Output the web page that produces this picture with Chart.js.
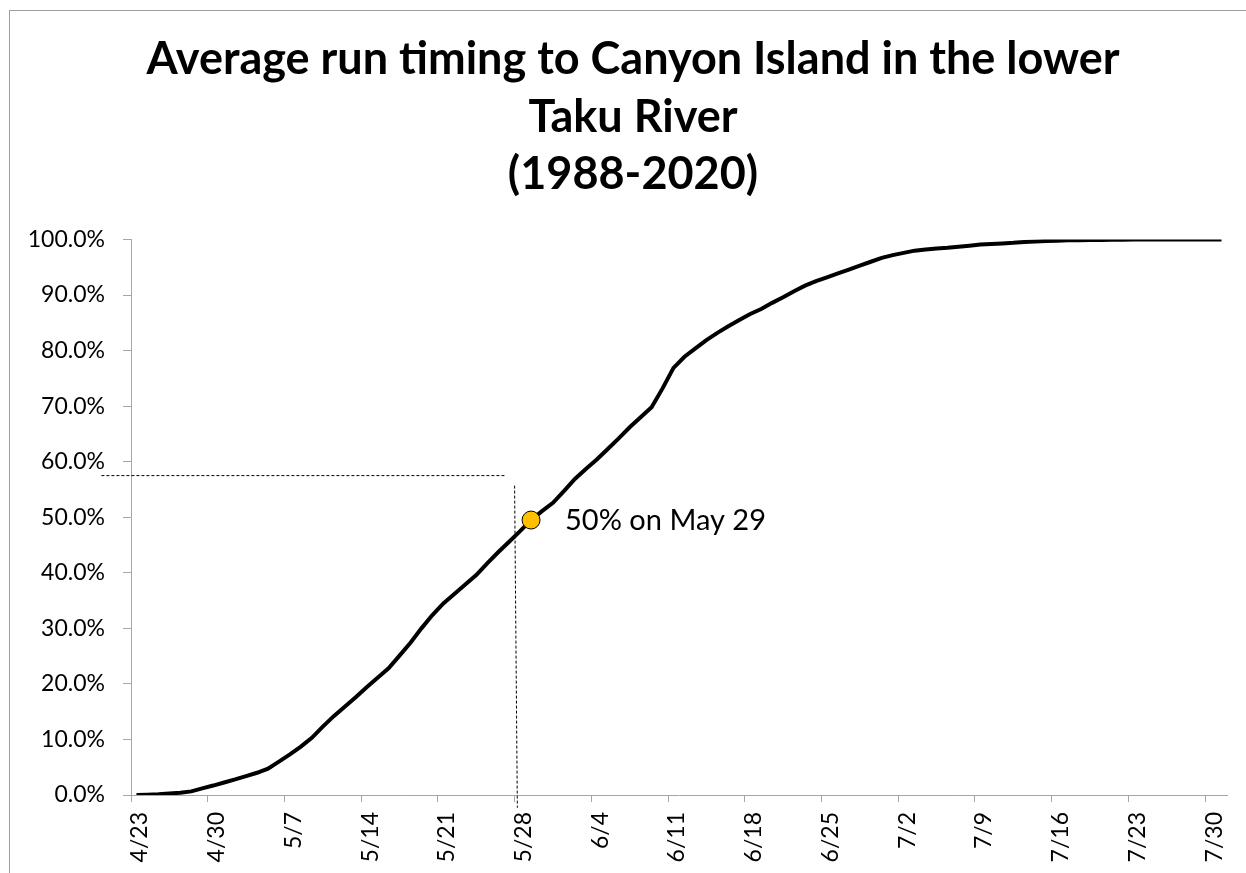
<!DOCTYPE html>
<html lang="en">
<head>
  <meta charset="UTF-8">
  <title>Average run timing - Canyon Island</title>
  <script src="https://cdn.jsdelivr.net/npm/chart.js"></script>
  <style>
    html, body {
      margin: 0;
      padding: 0;
      background: #ffffff;
      overflow: hidden;
    }
    .frame {
      position: absolute;
      left: 9px;
      top: 10px;
      width: 1300px;
      height: 900px;
      border-top: 1px solid #9e9e9e;
      border-left: 1px solid #9e9e9e;
    }
    #chart {
      position: absolute;
      left: 0;
      top: 0;
    }
  </style>
</head>
<body>
  <div class="frame"></div>
  <canvas id="chart" width="1246" height="873"></canvas>

  <script>
    // x axis: days since 4/23, one tick per week
    const tickDays = [0, 7, 14, 21, 28, 35, 42, 49, 56, 63, 70, 77, 84, 91, 98];
    const tickLabels = ['4/23', '4/30', '5/7', '5/14', '5/21', '5/28', '6/4', '6/11',
                        '6/18', '6/25', '7/2', '7/9', '7/16', '7/23', '7/30'];

    // cumulative run (%), one value per day from 4/23 to 7/31
    const runPct = [
      0.0, 0.05, 0.12, 0.25, 0.42, 0.65, 1.2, 1.7, 2.25, 2.8,
      3.4, 4.0, 4.75, 6.0, 7.3, 8.7, 10.3, 12.3, 14.2, 15.9,
      17.6, 19.4, 21.1, 22.8, 25.1, 27.4, 30.0, 32.4, 34.5, 36.2,
      37.9, 39.6, 41.7, 43.7, 45.6, 47.5, 49.5, 51.1, 52.6, 54.7,
      56.9, 58.7, 60.4, 62.3, 64.2, 66.2, 68.0, 69.8, 73.2, 76.9,
      78.9, 80.4, 81.9, 83.2, 84.4, 85.5, 86.6, 87.5, 88.6, 89.6,
      90.7, 91.7, 92.5, 93.2, 93.9, 94.6, 95.3, 96.0, 96.7, 97.2,
      97.6, 98.0, 98.2, 98.4, 98.5, 98.7, 98.9, 99.1, 99.2, 99.3,
      99.4, 99.55, 99.65, 99.75, 99.8, 99.85, 99.88, 99.9, 99.93, 99.96,
      99.98, 100, 100, 100, 100, 100, 100, 100, 100, 100
    ];

    // 50% marker (day 36 = 5/29)
    const markDay = 36;
    const markPct = 49.5;
    const markText = '50% on May 29';

    // dashed guide lines, in axis units (day, %)
    const guideHDays = [-2.7, 34.2];
    const guideHPct = [57.5, 57.5];
    const guideVDays = [35.0, 35.25];
    const guideVPct = [55.7, -2.3];

    const FONT = 'Lato, "Open Sans", sans-serif';
    const AXIS_GREY = '#a6a6a6';

    const extras = {
      id: 'extras',
      // the title is centred on the whole frame, not only on the plot side
      afterLayout(chart) {
        if (chart.titleBlock) chart.titleBlock.left += 39;
      },
      afterDatasetsDraw(chart) {
        const { ctx, scales: { x, y } } = chart;
        ctx.save();
        ctx.strokeStyle = '#000';
        ctx.lineWidth = 1;
        ctx.setLineDash([3, 2]);
        ctx.beginPath();
        ctx.moveTo(x.getPixelForValue(guideHDays[0]), y.getPixelForValue(guideHPct[0] / 100));
        ctx.lineTo(x.getPixelForValue(guideHDays[1]), y.getPixelForValue(guideHPct[1] / 100));
        ctx.moveTo(x.getPixelForValue(guideVDays[0]), y.getPixelForValue(guideVPct[0] / 100));
        ctx.lineTo(x.getPixelForValue(guideVDays[1]), y.getPixelForValue(guideVPct[1] / 100));
        ctx.stroke();
        ctx.setLineDash([]);

        // marker label
        const pt = chart.getDatasetMeta(1).data[0];
        ctx.fillStyle = '#000';
        ctx.font = '29px ' + FONT;
        ctx.textAlign = 'left';
        ctx.textBaseline = 'middle';
        ctx.fillText(markText, pt.x + 34, pt.y + 1);
        ctx.restore();
      }
    };

    function draw() {
      new Chart(document.getElementById('chart'), {
        type: 'line',
        data: {
          datasets: [
            {
              data: runPct.map((v, i) => ({ x: i + 0.5, y: v / 100 })),
              borderColor: '#000',
              borderWidth: 4,
              pointRadius: 0,
              tension: 0,
              order: 2
            },
            {
              type: 'scatter',
              data: [{ x: markDay + 0.5, y: markPct / 100 }],
              pointRadius: 9,
              backgroundColor: '#FFC000',
              borderColor: '#000',
              borderWidth: 1,
              order: 1
            }
          ]
        },
        options: {
          responsive: false,
          animation: false,
          layout: { padding: { left: 0, right: 19, top: 0, bottom: 0 } },
          plugins: {
            legend: { display: false },
            tooltip: { enabled: false },
            title: {
              display: true,
              text: ['Average run timing to Canyon Island in the lower', 'Taku River', '(1988-2020)'],
              color: '#000',
              font: { family: FONT, size: 45, weight: 'bold', lineHeight: 1.278 },
              padding: { top: 31, bottom: 36 }
            }
          },
          scales: {
            x: {
              type: 'linear',
              min: 0,
              max: 100,
              afterBuildTicks: s => { s.ticks = tickDays.map(v => ({ value: v })); },
              afterFit: s => { s.height = 78; },
              ticks: {
                autoSkip: false,
                minRotation: 90,
                maxRotation: 90,
                padding: 10,
                labelOffset: 9,
                color: '#000',
                font: { family: FONT, size: 23 },
                callback: (v, i) => tickLabels[i]
              },
              grid: { drawOnChartArea: false, tickLength: 7, color: AXIS_GREY },
              border: { color: AXIS_GREY, width: 1 }
            },
            y: {
              min: 0,
              max: 1,
              afterFit: s => { s.width = 131; },
              ticks: {
                stepSize: 0.1,
                padding: 18,
                color: '#000',
                font: { family: FONT, size: 23 },
                callback: v => (v * 100).toFixed(1) + '%'
              },
              grid: { drawOnChartArea: false, tickLength: 8, color: AXIS_GREY },
              border: { color: AXIS_GREY, width: 1 }
            }
          }
        },
        plugins: [extras]
      });
    }

    Promise.all([
      document.fonts.load('bold 45px Lato'),
      document.fonts.load('23px Lato')
    ]).then(draw, draw);
  </script>
</body>
</html>
